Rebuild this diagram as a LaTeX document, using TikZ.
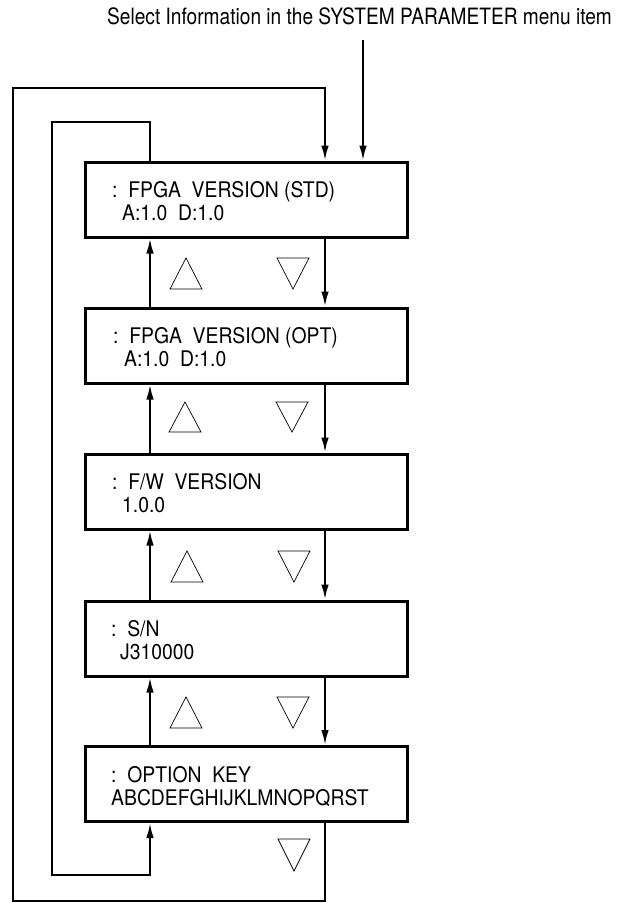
\documentclass[tikz,border=0pt]{standalone}
\usepackage{fontspec}
\setmainfont{TeX Gyre Heros}
\newfontfamily\boxfont[FakeStretch=0.9]{TeX Gyre Heros}
\newfontfamily\headfont[FakeStretch=0.85]{TeX Gyre Heros}
\usetikzlibrary{arrows.meta}
\begin{document}
\begin{tikzpicture}[x=1pt,y=-1pt,
  box/.style={draw,line width=3pt,minimum width=322pt,minimum height=75pt,inner sep=0pt},
  txt/.style={anchor=base west,inner sep=0pt,font=\boxfont\fontsize{21.5}{23}\selectfont},
  head/.style={anchor=base west,inner sep=0pt,font=\headfont\fontsize{22.5}{24}\selectfont},
  arr/.style={line width=2pt,-{Latex[length=15pt,width=7.5pt]}},
  tri/.style={draw,line width=0.7pt,line join=miter}]
\useasboundingbox (0,0) rectangle (622,903);
% heading
\node[head] (hd) at (107,24) {Select Information in the SYSTEM PARAMETER menu item};
% boxes
\node[box] (b1) at (246,199.5) {};
\node[box] (b2) at (246,345.5) {};
\node[box] (b3) at (246,491.5) {};
\node[box] (b4) at (246,638.5) {};
\node[box] (b5) at (246,784) {};
% texts
\node[txt] (t1a) at (112,197) {:~~FPGA~~VERSION (STD)};
\node[txt] (t1b) at (122,220) {A:1.0~~D:1.0};
\node[txt] (t2a) at (113,343) {:~~FPGA~~VERSION (OPT)};
\node[txt] (t2b) at (124,366) {A:1.0~~D:1.0};
\node[txt] (t3a) at (112,489) {:~~F/W~~VERSION};
\node[txt] (t3b) at (122,512) {1.0.0};
\node[txt] (t4a) at (111,636) {:~~S/N};
\node[txt] (t4b) at (120,659) {J310000};
\node[txt] (t5a) at (111,782) {:~~OPTION~~KEY};
\node[txt] (t5b) at (111,805) {ABCDEFGHIJKLMNOPQRST};
% helper coordinates
\coordinate (xu) at (150,0);
\coordinate (xd) at (325,0);
\coordinate (entry) at (363,40);
\coordinate (il1) at (52,122);
\coordinate (il2) at (52,875);
\coordinate (ol1) at (13,88);
\coordinate (ol2) at (13,901);
% entry arrow
\draw[arr] (entry) -- (b1.north -| entry);
% between boxes
\draw[arr] (b2.north -| xu) -- (b1.south -| xu);
\draw[arr] (b1.south -| xd) -- (b2.north -| xd);
\draw[arr] (b3.north -| xu) -- (b2.south -| xu);
\draw[arr] (b2.south -| xd) -- (b3.north -| xd);
\draw[arr] (b4.north -| xu) -- (b3.south -| xu);
\draw[arr] (b3.south -| xd) -- (b4.north -| xd);
\draw[arr] (b5.north -| xu) -- (b4.south -| xu);
\draw[arr] (b4.south -| xd) -- (b5.north -| xd);
% inner loop (top to bottom)
\draw[arr,line join=miter] (b1.north -| xu) -- (xu |- il1) -- (il1) -- (il2) -- (il2 -| xu) -- (b5.south -| xu);
% outer loop (bottom to top)
\draw[arr,line join=miter] (b5.south -| xd) -- (xd |- ol2) -- (ol2) -- (ol1) -- (xd |- ol1) -- (b1.north -| xd);
% triangles
\draw[tri] (170,289) -- (202,289) -- (186,258) -- cycle;
\draw[tri] (277,258) -- (309,258) -- (293,289) -- cycle;
\draw[tri] (169,432) -- (201,432) -- (185,402) -- cycle;
\draw[tri] (276,402) -- (308,402) -- (292,432) -- cycle;
\draw[tri] (171,582) -- (203,582) -- (187,551) -- cycle;
\draw[tri] (278,551) -- (310,551) -- (294,582) -- cycle;
\draw[tri] (170,728) -- (202,728) -- (186,697) -- cycle;
\draw[tri] (277,697) -- (309,697) -- (293,728) -- cycle;
\draw[tri] (278,839) -- (310,839) -- (294,871) -- cycle;
\end{tikzpicture}
\end{document}
